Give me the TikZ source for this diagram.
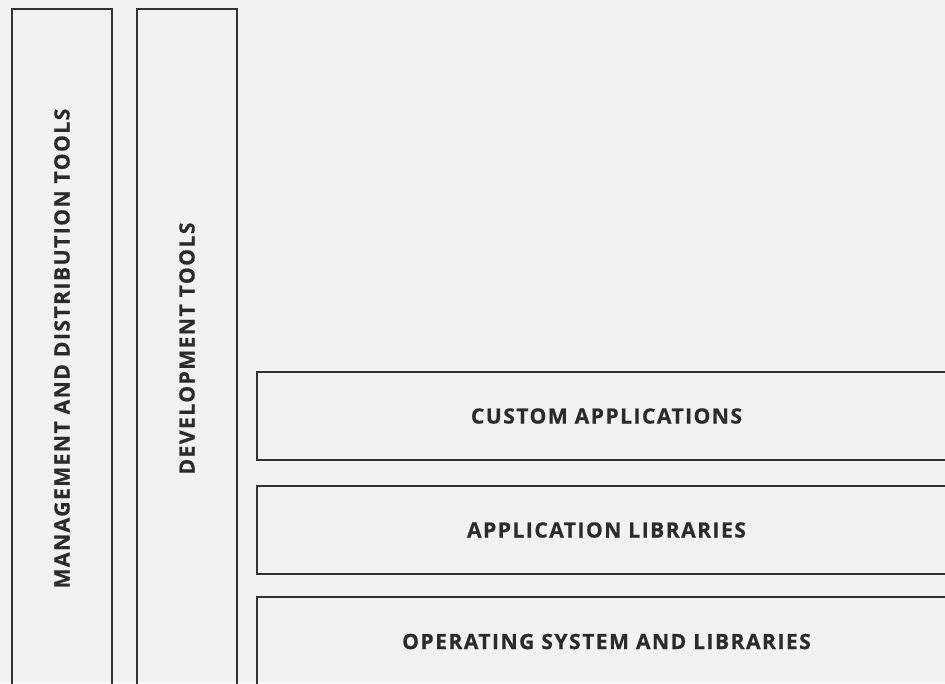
\documentclass[tikz,border=0pt]{standalone}
\usepackage{fontspec}
\newfontfamily\stackfont{Open Sans}[LetterSpace=7,BoldFeatures={FakeBold=0.6}]
\definecolor{pagebg}{HTML}{F2F2F2}
\definecolor{edge}{HTML}{333333}
\definecolor{ink}{HTML}{2B2B2B}
\tikzset{
  layer/.style={draw=edge,line width=0.045cm,inner sep=0cm,text=ink,
    font=\stackfont\bfseries\fontsize{12}{14}\selectfont},
  wide/.style={layer,minimum width=13.98cm,minimum height=1.76cm},
  tall/.style={layer,rotate=90,minimum width=13.58cm,minimum height=2cm}
}
\begin{document}
\begin{tikzpicture}[x=0.02cm,y=-0.02cm]
  \useasboundingbox (0,0) rectangle (945,683);
  \fill[pagebg] (0,0) rectangle (945,683);
  \clip (0,0) rectangle (945,683);
  \begin{scope}
    % side columns
    \node[tall] (mgmt) at (62,348.5) {MANAGEMENT AND DISTRIBUTION TOOLS} ;
    \node[tall] (dev) at (187,348.5) {DEVELOPMENT TOOLS} ;

    % stack
    \node[wide] (apps) at (606.5,416) {CUSTOM APPLICATIONS} ;
    \node[wide] (libs) at (606.5,530) {APPLICATION LIBRARIES} ;
    \node[wide,minimum height=1.78cm] (os) at (606.5,641.5) {OPERATING SYSTEM AND LIBRARIES} ;
  \end{scope}
\end{tikzpicture}
\end{document}
